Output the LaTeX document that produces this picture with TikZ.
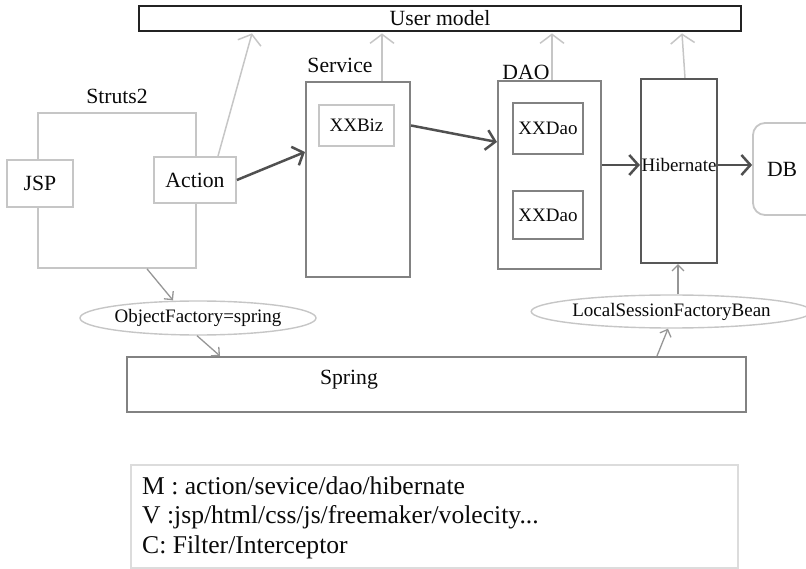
\documentclass[tikz,border=0pt]{standalone}
\usepackage{fontspec}
\setmainfont{Liberation Serif}
\usetikzlibrary{arrows.meta,shapes.geometric}
\definecolor{lightline}{RGB}{198,198,198}
\definecolor{legendline}{RGB}{220,220,220}
\definecolor{midline}{RGB}{130,130,130}
\definecolor{darkline}{RGB}{80,80,80}
\definecolor{darkbox}{RGB}{35,35,35}
\definecolor{txt}{RGB}{10,10,10}
\tikzset{
  big/.style={font=\fontsize{21.7}{26}\selectfont, text=txt},
  small/.style={font=\fontsize{19}{23}\selectfont, text=txt},
  lightbox/.style={draw=lightline, line width=1.8pt, fill=white, inner sep=0pt},
  midbox/.style={draw=midline, line width=2.1pt, fill=white, inner sep=0pt},
  plainlbl/.style={inner sep=0pt},
  lightarrow/.style={draw=lightline, line width=1.5pt, -{Straight Barb[length=9pt,width=24pt,line width=1.5pt]}},
  smallarrow/.style={draw=midline!70!lightline, line width=1.3pt, -{Straight Barb[length=6pt,width=12pt,line width=1.3pt]}},
  darkarrow/.style={draw=darkline, line width=2.5pt, -{Straight Barb[length=9pt,width=20pt,line width=2.5pt]}},
  ell/.style={ellipse, draw=lightline, line width=1.4pt, fill=white, inner sep=0pt},
}
\begin{document}
\begin{tikzpicture}[x=1pt,y=-1pt]
\useasboundingbox (0,0) rectangle (806,569);
% User model
\node[draw=darkbox, line width=2.8pt, fill=white, minimum width=602pt, minimum height=25pt, inner sep=0pt, big] (user) at (440,18.5) {User model};
% Struts2
\node[big, plainlbl] (strutslbl) at (117,96) {Struts2};
\node[draw=lightline, line width=1.8pt, minimum width=158pt, minimum height=155pt, inner sep=0pt] (struts) at (117,190.5) {};
\node[lightbox, big, minimum width=66pt, minimum height=47pt] (jsp) at (40,183.5) {JSP};
\node[lightbox, big, minimum width=82pt, minimum height=46pt] (action) at (195,180) {Action};
% Service
\node[big, plainlbl] (servicelbl) at (340,65) {Service};
\node[midbox, minimum width=104pt, minimum height=195pt] (service) at (358,179.5) {};
\node[lightbox, small, minimum width=75pt, minimum height=41pt] (xxbiz) at (356.5,125.5) {XXBiz};
% DAO
\node[big, plainlbl] (daolbl) at (526,72) {DAO};
\node[midbox, minimum width=103pt, minimum height=188pt] (dao) at (549.5,175) {};
\node[midbox, small, minimum width=70pt, minimum height=51pt] (xxdao1) at (548,128.5) {XXDao};
\node[midbox, small, minimum width=70pt, minimum height=48pt] (xxdao2) at (548,215) {XXDao};
% Hibernate
\node[draw=darkline!85!midline, line width=2.1pt, fill=white, minimum width=76pt, minimum height=184pt, inner sep=0pt] (hib) at (679,171) {};
\node[small, plainlbl] (hibtxt) at (679,165) {Hibernate};
% DB
\node[draw=lightline, line width=1.8pt, rounded corners=12pt, minimum width=87pt, minimum height=92pt, text width=59pt, inner xsep=14pt, align=left, big] (db) at (796.5,169) {DB};
% Ellipses
\node[ell, small, minimum width=230pt, minimum height=34pt] (of) at (198,318) {ObjectFactory=spring};
\node[ell, small, minimum width=231pt, minimum height=33pt] (lsfb) at (671.5,311.5) {LocalSessionFactoryBean};
% Spring
\node[midbox, minimum width=619pt, minimum height=55pt] (spring) at (436.5,384.5) {};
\node[big, plainlbl] (springtxt) at (349,380) {Spring};
% Legend
\node[draw=legendline, line width=1.8pt, minimum width=607pt, minimum height=103pt, inner sep=0pt] (legend) at (434.5,516.5) {};
\node[anchor=base west, inner sep=0pt, font=\fontsize{25.6}{30}\selectfont, text=txt] (l1) at (142,494) {M : action/sevice/dao/hibernate};
\node[anchor=base west, inner sep=0pt, font=\fontsize{25.6}{30}\selectfont, text=txt] (l2) at (142,523.5) {V :jsp/html/css/js/freemaker/volecity...};
\node[anchor=base west, inner sep=0pt, font=\fontsize{25.6}{30}\selectfont, text=txt] (l3) at (142,553) {C: Filter/Interceptor};
% Arrows to User model
\draw[lightarrow] ([xshift=23pt]action.north) -- ([xshift=-188pt,yshift=-1pt]user.south);
\draw[lightarrow] ([xshift=24pt]service.north) -- ([xshift=-58pt,yshift=-1pt]user.south);
\draw[lightarrow] ([xshift=2.5pt]dao.north) -- ([xshift=112pt,yshift=-1pt]user.south);
\draw[lightarrow] ([xshift=6pt]hib.north) -- ([xshift=242pt,yshift=-1pt]user.south);
% Main flow
\draw[darkarrow] (action.east) -- ([yshift=27.5pt]service.west);
\draw[darkarrow] (xxbiz.east -| service.east) -- ([yshift=33pt]dao.west);
\draw[darkarrow] (dao.east |- hibtxt) -- (hib.west |- hibtxt);
\draw[darkarrow] (hib.east |- hibtxt) -- (db.west |- hibtxt);
% Spring connections
\draw[smallarrow] ([xshift=30pt]struts.south) -- ([xshift=-25pt]of.north);
\draw[smallarrow] ([xshift=-1pt]of.south) -- ([xshift=-216.5pt]spring.north);
\draw[smallarrow] ([xshift=220.5pt]spring.north) -- ([xshift=-3.5pt]lsfb.south);
\draw[smallarrow] ([xshift=6.5pt]lsfb.north) -- ([xshift=-1pt]hib.south);
\end{tikzpicture}
\end{document}
